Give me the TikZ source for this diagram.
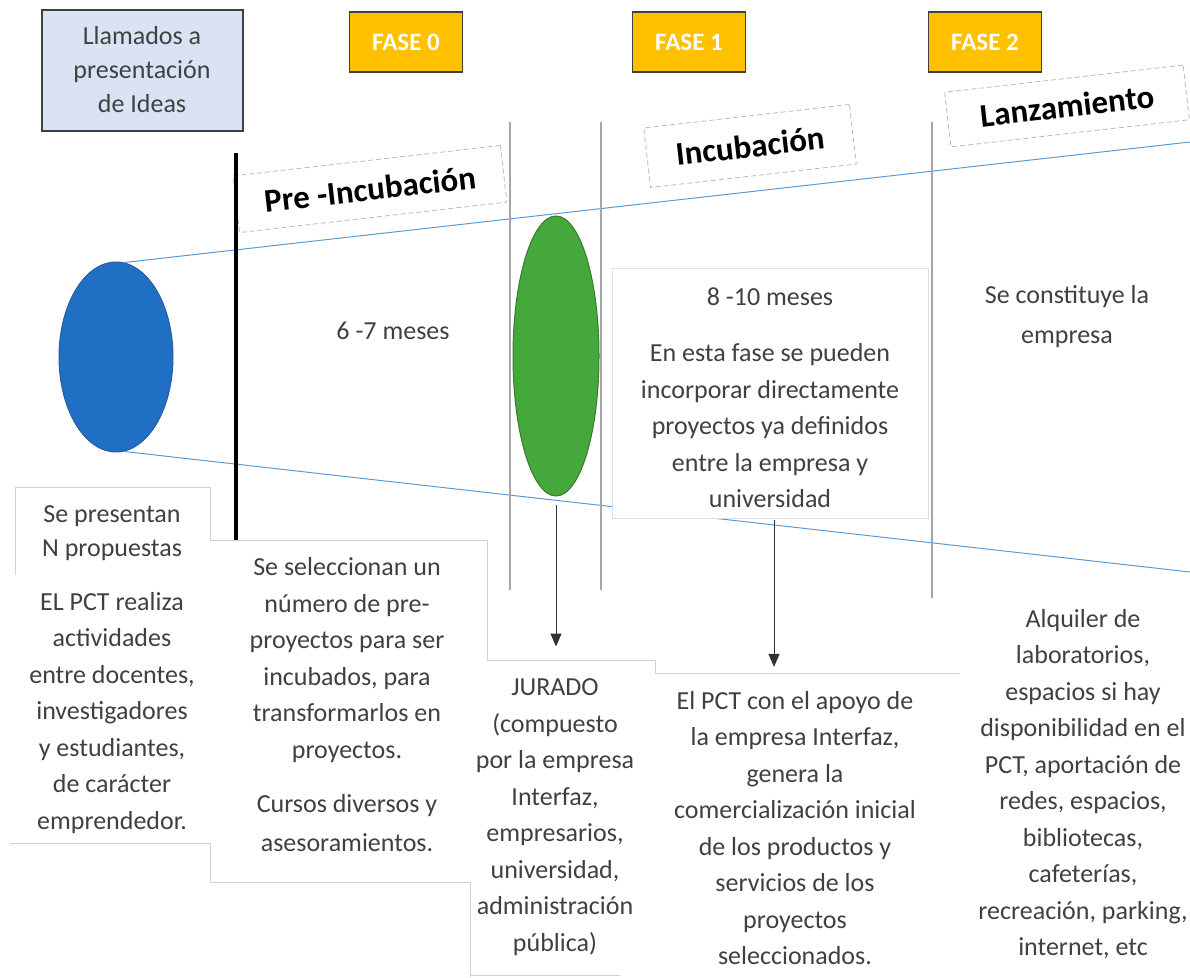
\documentclass[tikz,border=0pt]{standalone}
\usepackage{fontspec}
\setmainfont{Carlito}
\usetikzlibrary{arrows.meta,shapes.geometric}

\definecolor{ideaazul}{HTML}{1F6FC5}
\definecolor{ideaborde}{HTML}{2B5E9E}
\definecolor{filtroverde}{HTML}{45A83A}
\definecolor{filtroborde}{HTML}{3A7A2E}
\definecolor{lineaazul}{HTML}{5B9BD5}
\definecolor{faseamarillo}{HTML}{FFC000}
\definecolor{llamadoazul}{HTML}{DAE3F3}
\definecolor{textogris}{HTML}{404040}

\tikzset{
  fase/.style={draw=black!75, line width=1.5pt, fill=faseamarillo, text=white,
    font=\fontsize{25}{30}\selectfont\bfseries, minimum width=113, minimum height=60},
  llamado/.style={draw=black!75, line width=2pt, fill=llamadoazul, text=textogris, align=center,
    font=\fontsize{26}{34}\selectfont, minimum width=201, minimum height=121},
  etapa/.style={draw=gray!55, dash pattern=on 5pt off 3pt, line width=0.8pt, rotate=6.5,
    font=\fontsize{33}{40}\selectfont\bfseries, inner sep=0},
  texto/.style={align=center, text=textogris, inner sep=0, font=\fontsize{26}{36.5}\selectfont},
  marco/.style={draw=gray!35, line width=0.8pt},
  divisor/.style={draw=gray!70, line width=2pt},
  flecha/.style={draw=black!80, line width=1pt, -{Triangle[length=13pt,width=11pt]}},
}

\begin{document}
\begin{tikzpicture}[x=1pt,y=-1pt]
\useasboundingbox (0,0) rectangle (1190,977);

% cabecera
\node[llamado] (llamado) at (142,70) {Llamados a\\presentación\\de Ideas};
\node[fase] (fase0) at (406,42) {FASE 0};
\node[fase] (fase1) at (689,42) {FASE 1};
\node[fase] (fase2) at (985,42) {FASE 2};

% embudo
\node[ellipse, fill=ideaazul, draw=ideaborde, line width=1pt, minimum width=114, minimum height=190, inner sep=0] (idea) at (116,357) {};
\coordinate (arribafin) at (1190,142);
\coordinate (abajofin) at (1190,572);
\draw[lineaazul, line width=1pt] (idea.85) -- (arribafin);
\draw[lineaazul, line width=1pt] (idea.-85) -- (abajofin);

% etapas
\node[etapa, minimum width=269, minimum height=57] (preinc) at (370,189) {Pre -Incubación};
\node[etapa, minimum width=207, minimum height=60] (incub) at (750,146) {Incubación};
\node[etapa, minimum width=240, minimum height=55] (lanz) at (1067,106) {Lanzamiento};

\draw[line width=4pt] (236,153) -- (236,540);
\foreach \x/\y in {510/590, 601/590, 932/598}
  \draw[divisor] (\x,122) -- (\x,\y);

\node[ellipse, fill=filtroverde, draw=filtroborde, line width=1pt, minimum width=86, minimum height=280, inner sep=0] (filtro) at (556,356) {};

\node[texto] (meses67) at (393,331) {6 -7 meses};
\node[draw=gray!25, fill=white, minimum width=316, minimum height=250] (incbox) at (770,393) {};
\node[texto] (meses810) at (770,297) {8 -10 meses};
\node[texto] (directo) at (770,426) {En esta fase se pueden\\incorporar directamente\\proyectos ya definidos\\entre la empresa y\\universidad};
\node[texto, font=\fontsize{26}{40}\selectfont] (constituye) at (1067,317) {Se constituye la\\empresa};

% marcos de texto
\draw[marco] (15,575) -- (15,487) -- (210,487) -- (210,540) -- (487,540) -- (487,660)
  -- (655,660) -- (655,673) -- (960,673);
\draw[marco] (10,843) -- (210,843) -- (210,882) -- (470,882) -- (470,977);
\draw[marco] (470,975) -- (620,975);

\node[texto, font=\fontsize{26}{34}\selectfont] (presentan) at (112,533) {Se presentan\\N propuestas};
\node[texto] (realiza) at (112,713) {EL PCT realiza\\actividades\\entre docentes,\\investigadores\\y estudiantes,\\de carácter\\emprendedor.};
\node[texto] (selecciona) at (347,660) {Se seleccionan un\\número de pre-\\proyectos para ser\\incubados, para\\transformarlos en\\proyectos.};
\node[texto, font=\fontsize{26}{39}\selectfont] (cursos) at (347,823) {Cursos diversos y\\asesoramientos.};
\node[texto] (jurado) at (555,817) {JURADO\\(compuesto\\por la empresa\\Interfaz,\\empresarios,\\universidad,\\administración\\pública)};
\node[texto] (comercial) at (795,828) {El PCT con el apoyo de\\la empresa Interfaz,\\genera la\\comercialización inicial\\de los productos y\\servicios de los\\proyectos\\seleccionados.};
\node[texto] (alquiler) at (1083,784) {Alquiler de\\laboratorios,\\espacios si hay\\disponibilidad en el\\PCT, aportación de\\redes, espacios,\\bibliotecas,\\cafeterías,\\recreación, parking,\\internet, etc};

% flechas
\draw[flecha, shorten <=8pt, shorten >=32pt] (filtro.south) -- (filtro.south |- jurado.north);
\draw[flecha, shorten <=2pt, shorten >=24pt] ([xshift=4pt]incbox.south) -- ([xshift=4pt]incbox.south |- comercial.north);
\end{tikzpicture}
\end{document}
